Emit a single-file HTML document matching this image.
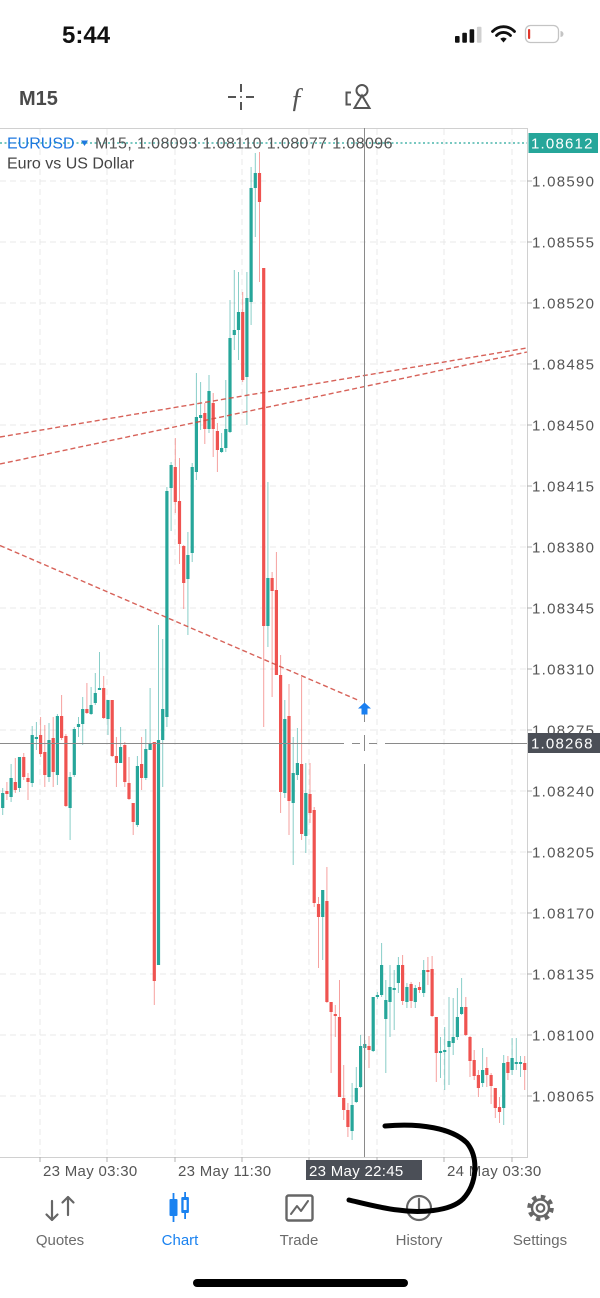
<!DOCTYPE html>
<html><head><meta charset="utf-8"><style>
html,body{margin:0;padding:0;background:#fff;width:600px;height:1298px;overflow:hidden}
svg{display:block}
text{font-family:"Liberation Sans",Arial,sans-serif}
</style></head><body>
<svg width="600" height="1298" viewBox="0 0 600 1298" xmlns="http://www.w3.org/2000/svg">
<rect width="600" height="1298" fill="#fff"/>
<!-- status bar -->
<text x="62" y="43" font-size="24" font-weight="bold" fill="#111">5:44</text>
<g fill="#111">
<rect x="455" y="36" width="4.6" height="6.7" rx="1"/>
<rect x="462.3" y="32.7" width="4.6" height="10" rx="1"/>
<rect x="469.6" y="29.3" width="4.6" height="13.4" rx="1"/>
<rect x="476.9" y="26.7" width="4.6" height="16" rx="1" fill="#d0d0d0"/>
</g>
<g fill="none" stroke="#111" stroke-width="2.8" stroke-linecap="round">
<path d="M492.5 31.5 A15 15 0 0 1 514.5 31.5"/>
<path d="M496.5 35.5 A9.5 9.5 0 0 1 510.5 35.5"/>
</g>
<path d="M500.3 38.8 L503.5 42.5 L506.7 38.8 A4.5 4.5 0 0 0 500.3 38.8Z" fill="#111"/>
<rect x="525.5" y="25.5" width="33" height="17" rx="5" fill="none" stroke="#c4c4c4" stroke-width="1.3"/>
<rect x="528" y="29" width="2.2" height="10" rx="1" fill="#e0372c"/>
<path d="M560.5 31 a2.5 2.5 0 0 1 0 6z" fill="#c4c4c4"/>

<!-- toolbar -->
<text x="19" y="105" font-size="20" font-weight="bold" fill="#4a4a4a">M15</text>
<g stroke="#555" stroke-width="2" fill="none">
<path d="M228 97H236 M246 97H254 M241 84V92 M241 102V110"/>
</g>
<circle cx="241" cy="97" r="1" fill="#555"/>
<text x="290" y="107" font-size="28" font-style="italic" font-family="Liberation Serif,serif" fill="#555" style="font-family:'Liberation Serif',serif">ƒ</text>
<g stroke="#555" stroke-width="2" fill="none">
<path d="M351 92.5H346.5V104.5H351"/>
<circle cx="362" cy="90.5" r="5.5"/>
<path d="M354.5 108L362 95.5L369.5 108Z"/>
</g>

<!-- chart grid -->
<g stroke="#e9e9e9" stroke-width="1" stroke-dasharray="6 4">
<path d="M0 181H527 M0 242H527 M0 303H527 M0 364H527 M0 425H527 M0 486H527 M0 547H527 M0 608H527 M0 669H527 M0 730H527 M0 791H527 M0 852H527 M0 913H527 M0 974H527 M0 1035H527 M0 1096H527"/>
<path d="M40 129V1157 M107 129V1157 M175 129V1157 M242 129V1157 M309 129V1157 M377 129V1157 M444 129V1157 M512 129V1157"/>
</g>
<!-- chart border -->
<path d="M0 128.5H527.5V1157.5H0" fill="none" stroke="#d0d0d0" stroke-width="1"/>
<!-- axis ticks -->
<g stroke="#b0b0b0" stroke-width="1">
<path d="M527 181H532 M527 242H532 M527 303H532 M527 364H532 M527 425H532 M527 486H532 M527 547H532 M527 608H532 M527 669H532 M527 730H532 M527 791H532 M527 852H532 M527 913H532 M527 974H532 M527 1035H532 M527 1096H532"/>
<path d="M40 1157V1162 M107 1157V1162 M175 1157V1162 M242 1157V1162 M309 1157V1162 M377 1157V1162 M444 1157V1162 M512 1157V1162"/>
</g>
<g font-size="15" fill="#555" letter-spacing="1.3">
<text x="532" y="186.5">1.08590</text>
<text x="532" y="247.5">1.08555</text>
<text x="532" y="308.5">1.08520</text>
<text x="532" y="369.5">1.08485</text>
<text x="532" y="430.5">1.08450</text>
<text x="532" y="491.5">1.08415</text>
<text x="532" y="552.5">1.08380</text>
<text x="532" y="613.5">1.08345</text>
<text x="532" y="674.5">1.08310</text>
<text x="532" y="735.5">1.08275</text>
<text x="532" y="796.5">1.08240</text>
<text x="532" y="857.5">1.08205</text>
<text x="532" y="918.5">1.08170</text>
<text x="532" y="979.5">1.08135</text>
<text x="532" y="1040.5">1.08100</text>
<text x="532" y="1101.5">1.08065</text>
</g>

<!-- candles -->
<g fill="none" stroke-linecap="butt">
<path stroke="#26a69a" stroke-opacity="0.55" stroke-width="1" d="M2.7 788V815 M11.1 764V802 M19.5 757V792 M32.2 726V787 M36.4 722V750 M49 723V782 M57.4 714V785 M70.1 772V840 M74.3 727V777 M78.5 717V737 M82.7 697V745 M91.1 687V715 M95.3 673V705 M99.5 652V690 M108 700V735 M120.6 727V763 M137.4 756V827 M145.8 729V780 M150.1 688V750 M158.5 625V965 M162.7 639V787 M166.9 487V727 M171.1 462V531 M187.9 532V635 M192.2 463V562 M196.4 373V480 M200.6 382V430 M209 375V433 M221.6 433V453 M225.8 380V452 M230 300V433 M234.3 270V350 M238.5 272V360 M246.9 272V425 M251.1 167V325 M255.3 153V237 M267.9 482V647 M284.8 700V798 M293.2 737V865 M297.4 728V780 M305.8 763V853 M322.7 890V960 M352.1 1083V1140 M356.3 1067V1103 M360.6 1035V1088 M364.8 1040V1060 M373.2 997V1052 M377.4 992V999 M381.6 943V997 M385.8 980V1073 M390 965V1037 M394.2 970V1030 M398.4 957V993 M406.9 983V1008 M415.3 985V1008 M423.7 960V997 M440.5 1037V1078 M444.7 1027V1090 M449 997V1085 M453.2 998V1055 M457.4 988V1040 M461.6 978V1015 M482.6 1048V1087 M503.7 1055V1125 M512.1 1038V1075 M516.3 1038V1070 M520.5 1056V1077"/>
<path stroke="#ef5350" stroke-opacity="0.55" stroke-width="1" d="M6.9 782V800 M15.3 758V793 M23.75 753V780 M28 773V800 M40.6 717V757 M44.8 725V787 M53.2 717V787 M61.6 695V740 M65.9 734V807 M86.9 683V714 M103.7 676V719 M112.2 700V757 M116.4 737V787 M124.8 742V787 M129 757V800 M133.2 803V835 M141.6 737V790 M154.3 742V1005 M175.3 438V513 M179.5 458V564 M183.7 545V609 M204.8 403V444 M213.2 393V457 M217.4 423V472 M242.7 292V382 M259.5 152V282 M263.7 268V727 M272.1 572V697 M276.4 552V675 M280.6 655V813 M289 684V835 M301.6 677V840 M310 763V823 M314.2 807V907 M318.5 897V968 M326.9 867V1003 M331.1 1002V1073 M335.3 1005V1037 M339.5 980V1097 M343.7 1065V1120 M347.9 1103V1137 M369 1036V1068 M402.6 955V1005 M411.1 982V1008 M419.5 982V993 M427.9 957V985 M432.1 956V1017 M436.3 1017V1082 M465.8 997V1036 M470 1036V1077 M474.2 1050V1080 M478.4 1070V1097 M486.8 1057V1087 M491.1 1073V1104 M495.3 1088V1118 M499.5 1097V1123 M507.9 1056V1080 M524.7 1056V1090"/>
<path stroke="#26a69a" stroke-width="3.2" d="M2.7 793V808 M11.1 778V797 M19.5 757V788 M32.2 735V783 M36.4 737V739 M49 740V777 M57.4 716V775 M70.1 777V808 M74.3 729V775 M78.5 724V727 M82.7 709V724 M91.1 705V714 M95.3 693V703 M99.5 688V690 M108 700V719 M120.6 747V763 M137.4 766V825 M145.8 749V778 M150.1 743V750 M158.5 740V965 M162.7 709V740 M166.9 491V717 M171.1 465V488 M187.9 555V579 M192.2 467V553 M196.4 417V472 M200.6 415V418 M209 391V429 M221.6 448V452 M225.8 429V448 M230 338V432 M234.3 330V335 M238.5 312V330 M246.9 298V377 M251.1 188V302 M255.3 173V188 M267.9 578V626 M284.8 719V793 M293.2 773V803 M297.4 763V775 M305.8 793V836 M322.7 890V917 M352.1 1105V1131 M356.3 1088V1102 M360.6 1046V1087 M364.8 1044V1048 M373.2 997V1051 M377.4 995V997 M381.6 965V995 M385.8 1000V1019 M390 987V1002 M394.2 988V990 M398.4 965V983 M406.9 987V1002 M415.3 988V1002 M423.7 970V993 M440.5 1051V1053 M444.7 1050V1052 M449 1041V1047 M453.2 1037V1043 M457.4 1017V1037 M461.6 1007V1014 M482.6 1070V1083 M503.7 1063V1108 M512.1 1058V1070 M516.3 1062V1064 M520.5 1062V1064"/>
<path stroke="#ef5350" stroke-width="3.2" d="M6.9 791V794 M15.3 782V790 M23.75 757V777 M28 778V782 M40.6 735V754 M44.8 752V775 M53.2 738V772 M61.6 716V738 M65.9 736V806 M86.9 709V713 M103.7 688V718 M112.2 700V756 M116.4 756V763 M124.8 745V782 M129 783V799 M133.2 803V822 M141.6 764V778 M154.3 742V981 M175.3 467V502 M179.5 501V544 M183.7 546V583 M204.8 413V429 M213.2 403V429 M217.4 431V450 M242.7 312V380 M259.5 173V202 M263.7 268V626 M272.1 578V591 M276.4 590V675 M280.6 675V792 M289 716V801 M301.6 764V834 M310 794V813 M314.2 810V903 M318.5 904V917 M326.9 901V1002 M331.1 1002V1012 M335.3 1014V1016 M339.5 1017V1097 M343.7 1098V1110 M347.9 1110V1127 M369 1046V1050 M402.6 965V1001 M411.1 984V1001 M419.5 987V990 M427.9 970V972 M432.1 969V1016 M436.3 1017V1053 M465.8 1007V1035 M470 1037V1061 M474.2 1060V1076 M478.4 1075V1088 M486.8 1068V1075 M491.1 1075V1086 M495.3 1088V1108 M499.5 1107V1112 M507.9 1062V1073 M524.7 1063V1070"/>
</g>

<!-- trend lines -->
<g stroke="#d0463c" stroke-opacity="0.85" stroke-width="1.4" stroke-dasharray="5 3" fill="none">
<path d="M0 437L527 348"/>
<path d="M0 464L527 352"/>
<path d="M0 545.5L360 701"/>
</g>

<!-- teal price line -->
<path d="M0 143H527" stroke="#26a69a" stroke-width="1.2" stroke-dasharray="2 2.5"/>
<rect x="528.5" y="133" width="69.5" height="20" fill="#26a69a"/>
<text x="531" y="148.5" font-size="15" fill="#fff" letter-spacing="1.2">1.08612</text>

<!-- crosshair -->
<g stroke="#8a8a8a" stroke-width="1">
<path d="M364.5 128V722 M364.5 735V751 M364.5 764V1157"/>
<path d="M0 743.5H344 M352 743.5H360 M369 743.5H377 M385 743.5H527"/>
</g>
<rect x="528" y="733" width="72" height="20" fill="#4b4f57"/>
<text x="531" y="748.5" font-size="15" fill="#fff" letter-spacing="1.2">1.08268</text>
<path d="M364.5 702.5L371 708.5H367.5V714.5H361.5V708.5H358Z" fill="#1a7ff0"/>

<!-- header -->
<text x="7" y="148.7" font-size="16" fill="#1e78e0">EURUSD</text>
<path d="M81 140.5H88L84.5 146Z" fill="#1e78e0"/>
<text x="95" y="148.7" font-size="16" fill="#555" letter-spacing="0.4">M15, 1.08093 1.08110 1.08077 1.08096</text>
<text x="7" y="168.7" font-size="16" fill="#444">Euro vs US Dollar</text>

<!-- time axis -->
<g font-size="15" fill="#555" letter-spacing="0.3">
<text x="43" y="1176">23 May 03:30</text>
<text x="178" y="1176">23 May 11:30</text>
<text x="447" y="1176">24 May 03:30</text>
</g>
<rect x="306" y="1160" width="116" height="20" fill="#4b4f57"/>
<text x="309" y="1176" font-size="15" fill="#fff" letter-spacing="0.3">23 May 22:45</text>

<!-- tab bar icons -->
<g stroke="#666" stroke-width="2.2" fill="none" stroke-linecap="round" stroke-linejoin="round">
<path d="M52 1201V1220 M46.5 1214.5L52 1220L57.5 1214.5"/>
<path d="M68 1215V1197 M62.5 1202.5L68 1197L73.5 1202.5"/>
<rect x="286.5" y="1195.5" width="26" height="25" rx="2" stroke-width="2.4"/>
<path d="M291 1214L297 1206L301 1211L308 1201" stroke-width="2"/>
<circle cx="419" cy="1208" r="12"/>
<path d="M419 1199V1209"/>
</g>
<g fill="#1a82f0">
<rect x="172.6" y="1193" width="1.8" height="29"/>
<rect x="169.5" y="1199" width="8" height="17" rx="1"/>
<rect x="184.2" y="1192" width="1.8" height="27"/>
<rect x="181.3" y="1197" width="7.6" height="16" rx="1"/>
<rect x="183.6" y="1200" width="3" height="10" fill="#fff"/>
</g>
<g fill="none" stroke="#666">
<circle cx="540.5" cy="1208" r="11.3" stroke-width="4" stroke-dasharray="4.4 4.47"/>
<circle cx="540.5" cy="1208" r="8.5" stroke-width="2.4"/>
<circle cx="540.5" cy="1208" r="3.8" stroke-width="2.2"/>
</g>
<g font-size="15" fill="#6b6b6b" text-anchor="middle">
<text x="60" y="1245">Quotes</text>
<text x="180" y="1245" fill="#1a82f0">Chart</text>
<text x="299" y="1245">Trade</text>
<text x="419" y="1245">History</text>
<text x="540" y="1245">Settings</text>
</g>

<!-- scribble -->
<path d="M385 1126 C420 1123 452 1128 467 1143 C479 1158 477 1184 463 1199 C450 1212 418 1213 398 1210 C380 1208 362 1203 349 1200" fill="none" stroke="#000" stroke-width="5" stroke-linecap="round"/>

<!-- home indicator -->
<rect x="193" y="1279" width="215" height="8" rx="4" fill="#000"/>
</svg>
</body></html>
